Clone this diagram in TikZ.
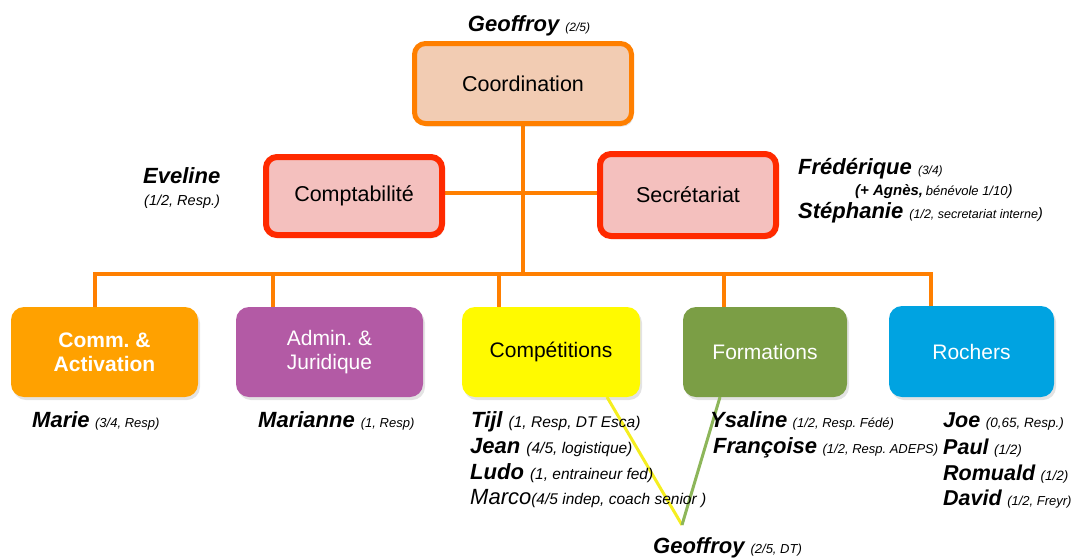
\documentclass[tikz,border=0pt]{standalone}
\usepackage{fontspec}
\setmainfont{Liberation Sans}
\usetikzlibrary{shadows}
\frenchspacing
\definecolor{conn}{HTML}{FF7F00}
\definecolor{coordfill}{HTML}{F2CCB3}
\definecolor{redborder}{HTML}{FF2A00}
\definecolor{pinkfill}{HTML}{F4C0BE}
\definecolor{commc}{HTML}{FFA100}
\definecolor{adminc}{HTML}{B35AA5}
\definecolor{compc}{HTML}{FFFA00}
\definecolor{formc}{HTML}{7B9E45}
\definecolor{rochc}{HTML}{00A3E1}
\definecolor{yline}{HTML}{F5EE20}
\definecolor{gline}{HTML}{8DB65A}
\newcommand{\fs}[1]{\fontsize{#1}{#1}\selectfont}
\newcommand{\nm}[1]{{\fs{22}\bfseries\itshape #1}}
\newcommand{\rn}[1]{{\fs{21.5}\bfseries\itshape #1}\hspace{5.5pt}}
\newcommand{\sm}[2]{{\fs{#1}\itshape #2}}
\tikzset{
  x=1pt, y=-1pt,
  shade/.style={drop shadow={opacity=0.22, shadow xshift=2pt, shadow yshift=-3pt}},
  topbox/.style={draw=conn, line width=5pt, fill=coordfill, rounded corners=11pt, minimum width=217pt, minimum height=80pt, font=\fs{21.5}, shade},
  midbox/.style={draw=redborder, line width=6pt, fill=pinkfill, rounded corners=11pt, minimum width=176pt, font=\fs{21.5}, shade},
  botbox/.style={rounded corners=13pt, minimum height=90pt, align=center, font=\fs{21}, shade, inner sep=0pt},
  link/.style={conn, line width=4pt},
  lbl/.style={anchor=base west, inner sep=0pt},
}
\begin{document}
\begin{tikzpicture}
\useasboundingbox (0,0) rectangle (1072,558);
% connectors behind
\coordinate (bus) at (523,274);
\coordinate (busL) at (95,274);
\coordinate (busR) at (931,274);
\draw[link] (523,122) -- (bus);
\draw[link] (442,193) -- (600,193);
\draw[link, line join=miter] (95,307) -- (busL) -- (busR) -- (931,306);
\draw[link] (273,274) -- (273,307);
\draw[link] (499,274) -- (499,307);
\draw[link] (724,274) -- (724,307);

% top
\node[topbox] (coord) at (523,83.5) {Coordination};
\node[midbox, minimum height=78pt] (compta) at (354,196) {Comptabilité};
\node[midbox, minimum height=82pt] (secr) at (688,195) {Secrétariat};

% bottom boxes
\node[botbox, fill=commc, text=white, font=\fs{21}\bfseries, minimum width=187pt] (comm) at (104.5,352) {Comm. \&\\[3pt]Activation};
\node[botbox, fill=adminc, text=white, minimum width=187pt] (admin) at (329.5,352) {Admin. \&\\[3pt]Juridique};
\node[botbox, fill=compc, text=black, minimum width=178pt] (comp) at (551,352) {Compétitions};
\node[botbox, fill=formc, text=white, minimum width=164pt] (form) at (765,352) {Formations};
\node[botbox, fill=rochc, text=white, minimum width=165pt, minimum height=91pt] (roch) at (971.5,351.5) {Rochers};

% DT lines
\coordinate (dt) at (682,525);
\draw[yline, line width=3pt] (607,397) -- (dt);
\draw[gline, line width=3pt] (720,397) -- (dt);

% labels
\node[anchor=base, inner sep=0pt] (lg) at (529,31) {\nm{Geoffroy }\sm{12}{(2/5)}};
\node[lbl] (le1) at (143,183) {\nm{Eveline}};
\node[lbl] (le2) at (144,205) {\sm{14.5}{(1/2, Resp.)}};
\node[lbl] (lf1) at (798,174) {\nm{Frédérique }\sm{12}{(3/4)}};
\node[lbl] (lf2) at (855,195) {{\fs{15}\bfseries\itshape (+ Agnès,} \sm{13}{bénévole 1/10}{\fs{15}\itshape )}};
\node[lbl] (lf3) at (798,218) {\nm{Stéphanie }\sm{12.5}{(1/2, secretariat interne}{\fs{15}\itshape )}};

\node[lbl] (lm) at (32,427) {\nm{Marie}\hspace{5.5pt}\sm{13}{(3/4, Resp)}};
\node[lbl] (lma) at (258,427) {\nm{Marianne }\sm{13}{(1, Resp)}};

\node[lbl] (lt1) at (471,427) {\nm{Tijl }\sm{15.5}{(1, Resp, DT Esca)}};
\node[lbl] (lt2) at (470,453) {\nm{Jean }\sm{15.5}{(4/5, logistique)}};
\node[lbl] (lt3) at (470,479) {\nm{Ludo }\sm{15.5}{(1, entraineur fed)}};
\node[lbl] (lt4) at (470,504) {{\fs{22}\itshape Marco}\sm{15.5}{(4/5 indep, coach senior )}};

\node[lbl] (ly1) at (710,427) {\nm{Ysaline}\hspace{5.5pt}\sm{13}{(1/2, Resp. Fédé)}};
\node[lbl] (ly2) at (713,453) {\nm{Françoise}\hspace{5.5pt}\sm{13}{(1/2, Resp. ADEPS)}};

\node[lbl] (lj1) at (943,427) {\rn{Joe}\sm{13.5}{(0,65, Resp.)}};
\node[lbl] (lj2) at (943,454) {\rn{Paul}\sm{13.5}{(1/2)}};
\node[lbl] (lj3) at (943,480) {\rn{Romuald}\sm{13.5}{(1/2)}};
\node[lbl] (lj4) at (943,505) {\rn{David}\sm{13}{(1/2, Freyr)}};

\node[lbl] (lgd) at (653,553) {\nm{Geoffroy }\sm{13}{(2/5, DT)}};
\end{tikzpicture}
\end{document}
